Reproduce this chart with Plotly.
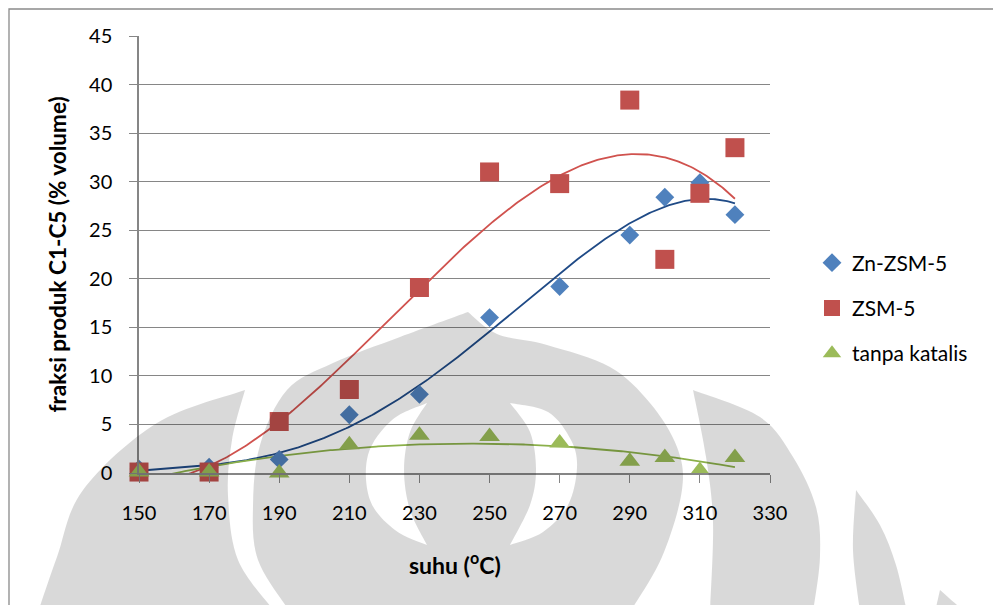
import numpy as np
import plotly.graph_objects as go

# Temperature (°C) and C1-C5 fraction (% volume) per catalyst
suhu = [150, 170, 190, 210, 230, 250, 270, 290, 300, 310, 320]
zn_zsm5 = [0.4, 0.6, 1.4, 6.0, 8.1, 16.0, 19.2, 24.5, 28.4, 29.9, 26.6]
zsm5 = [0.1, 0.1, 5.3, 8.6, 19.1, 31.0, 29.8, 38.4, 22.0, 28.8, 33.5]
tanpa_katalis = [0.1, 0.1, 0.0, 2.9, 3.9, 3.75, 3.1, 1.2, 1.6, 0.25, 1.6]

x_ticks = [150, 170, 190, 210, 230, 250, 270, 290, 310, 330]
y_ticks = [0, 5, 10, 15, 20, 25, 30, 35, 40, 45]

FONT = "Lato"
AXIS_GREY = "#868686"

# name, values, marker symbol, marker size, marker colour, trendline colour, polynomial order
series = [
    ("Zn-ZSM-5", zn_zsm5, "diamond", 14.5, "#4F81BD", "#1F4A86", 4),
    ("ZSM-5", zsm5, "square", 19, "#C0504D", "#D0524E", 3),
    ("tanpa katalis", tanpa_katalis, "triangle-up", 18, "#9BBB59", "#8BB04A", 2),
]

fig = go.Figure()

# polynomial trendlines fitted to each series
xs = np.array(suhu, dtype=float)
xfit = np.linspace(min(suhu), max(suhu), 300)
for name, vals, _, _, _, line_color, deg in series:
    coef = np.polyfit(xs, np.array(vals, dtype=float), deg)
    fig.add_trace(go.Scatter(
        x=xfit, y=np.polyval(coef, xfit), mode="lines",
        line=dict(color=line_color, width=1.8),
        showlegend=False, hoverinfo="skip",
    ))

for i, (name, vals, symbol, size, color, _, _) in enumerate(series):
    fig.add_trace(go.Scatter(
        x=suhu, y=vals, mode="markers", name=name, legendgroup=f"g{i}",
        marker=dict(symbol=symbol, size=size, color=color, line=dict(width=0)),
        cliponaxis=False,
    ))

# plot-area geometry in pixels, used to place the background emblem
L, R, T, B = 139, 770, 36, 473


def to_paper(p):
    return ((p[0] - L) / (R - L), (B - p[1]) / (B - T))


def smooth(points):
    """Catmull-Rom curve through the points as cubic Bezier commands."""
    pts = [np.array(to_paper(p)) for p in points]
    out = []
    n = len(pts)
    for k in range(n - 1):
        p0 = pts[k - 1] if k > 0 else pts[k]
        p1, p2 = pts[k], pts[k + 1]
        p3 = pts[k + 2] if k + 2 < n else pts[k + 1]
        c1 = p1 + (p2 - p0) / 6
        c2 = p2 - (p3 - p1) / 6
        out.append("C%.4f,%.4f %.4f,%.4f %.4f,%.4f" % (c1[0], c1[1], c2[0], c2[1], p2[0], p2[1]))
    return " ".join(out)


def closed(*segments):
    start = to_paper(segments[0][0])
    d = "M%.4f,%.4f " % start
    for seg in segments:
        first = to_paper(seg[0])
        d += "L%.4f,%.4f " % first
        d += smooth(seg) + " "
    return d + "Z"


emblem = [
    closed([(245, 390), (157, 423), (83, 490), (57, 557), (38, 612)],
           [(275, 612), (238, 560), (228, 495), (232, 440), (245, 390)]),
    closed([(290, 612), (258, 560), (253, 505), (260, 445), (287, 390), (333, 363), (400, 337), (468, 312)],
           [(468, 312), (497, 334), (547, 345), (610, 367), (650, 403), (677, 447), (682, 490), (662, 557), (630, 612)])
    + " " + closed([(427, 403), (392, 420), (368, 455), (370, 500), (395, 530), (427, 545)],
                   [(427, 545), (410, 510), (404, 470), (410, 432), (427, 403)])
    + " " + closed([(510, 403), (548, 412), (571, 440), (577, 468), (568, 505), (543, 532), (510, 545)],
                   [(510, 545), (530, 505), (536, 470), (530, 432), (510, 403)]),
    closed([(693, 390), (760, 417), (793, 457), (816, 507), (820, 557), (813, 612)],
           [(710, 612), (713, 523), (706, 457), (693, 390)]),
    closed([(856, 490), (880, 525), (896, 565), (907, 612)],
           [(860, 612), (853, 550), (856, 490)]),
    closed([(940, 590), (965, 612)], [(935, 612), (940, 590)]),
]

shapes = [
    dict(type="path", path=d, xref="paper", yref="paper", layer="above",
         fillcolor="rgba(0,0,0,0.15)", line=dict(width=0), fillrule="evenodd")
    for d in emblem
]

# chart frame (top and left edges visible)
x0, y0 = to_paper((9, 9))
x1, y1 = to_paper((1010, 640))
shapes.append(dict(type="rect", xref="paper", yref="paper", x0=x0, y0=y0, x1=x1, y1=y1,
                   line=dict(color="#8A8A8A", width=1.3), layer="below"))

fig.update_layout(
    width=993, height=605,
    margin=dict(l=L, r=993 - R, t=T, b=605 - B),
    paper_bgcolor="white", plot_bgcolor="white",
    font=dict(family=FONT, size=20, color="#000000"),
    xaxis=dict(range=[150, 330], tickvals=x_ticks, ticktext=[str(v) for v in x_ticks],
               showgrid=False, zeroline=False, showline=True, linecolor=AXIS_GREY, linewidth=1.5,
               ticks="outside", ticklen=8, tickcolor=AXIS_GREY, tickwidth=1.3,
               ticklabelstandoff=13, tickfont=dict(size=20, family=FONT)),
    yaxis=dict(range=[0, 45], tickvals=y_ticks, ticktext=[str(v) for v in y_ticks],
               showgrid=True, gridcolor=AXIS_GREY, gridwidth=1.3, zeroline=False,
               showline=True, linecolor=AXIS_GREY, linewidth=1.5,
               ticks="outside", ticklen=8, tickcolor=AXIS_GREY, tickwidth=1.3,
               ticklabelstandoff=13, tickfont=dict(size=20, family=FONT)),
    legend=dict(x=(812 - L) / (R - L), xanchor="left", y=(B - 308) / (B - T), yanchor="middle",
                font=dict(size=21, family=FONT), tracegroupgap=15, bgcolor="rgba(0,0,0,0)"),
    shapes=shapes,
    annotations=[
        dict(text="<b>suhu (<sup>o</sup>C)</b>", xref="paper", yref="paper",
             x=0.5, y=to_paper((0, 563))[1], xanchor="center", yanchor="middle",
             showarrow=False, font=dict(size=23, family=FONT)),
        dict(text="<b>fraksi produk C1-C5 (% volume)</b>", xref="paper", yref="paper",
             x=to_paper((57, 0))[0], y=0.5, xanchor="center", yanchor="middle", textangle=-90,
             showarrow=False, font=dict(size=22.5, family=FONT)),
    ],
)

fig.write_html("out.html")
